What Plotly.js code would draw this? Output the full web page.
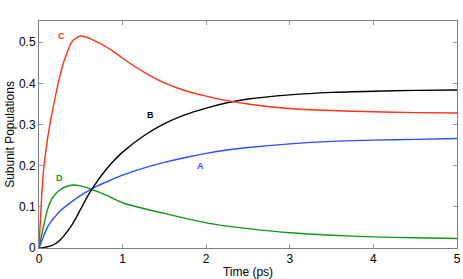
<!DOCTYPE html>
<html>
<head>
<meta charset="utf-8">
<script src="https://cdn.plot.ly/plotly-3.0.1.min.js"></script>
<style>html,body{margin:0;padding:0;background:#fff;}#chart{width:463px;height:279px;}</style>
</head>
<body>
<div id="chart"></div>
<script>
var time = [0, 0.05, 0.1, 0.15, 0.2, 0.25, 0.3, 0.4, 0.5, 0.6, 0.7, 0.8, 0.9, 1.0, 1.25, 1.5, 1.75, 2.0, 2.25, 2.5, 3.0, 3.5, 4.0, 4.5, 5.0];
var subunitA = [0, 0.026, 0.05, 0.066, 0.078, 0.089, 0.098, 0.114, 0.128, 0.140, 0.151, 0.160, 0.169, 0.177, 0.194, 0.208, 0.220, 0.230, 0.238, 0.244, 0.253, 0.259, 0.262, 0.264, 0.266];
var subunitB = [0, 0.001, 0.003, 0.006, 0.011, 0.019, 0.030, 0.058, 0.095, 0.132, 0.163, 0.190, 0.213, 0.233, 0.272, 0.302, 0.324, 0.340, 0.353, 0.362, 0.372, 0.378, 0.381, 0.383, 0.384];
var subunitC = [0, 0.18, 0.262, 0.322, 0.372, 0.418, 0.455, 0.503, 0.515, 0.510, 0.500, 0.489, 0.476, 0.461, 0.428, 0.401, 0.382, 0.369, 0.358, 0.350, 0.339, 0.334, 0.331, 0.329, 0.328];
var subunitD = [0, 0.048, 0.092, 0.118, 0.132, 0.141, 0.147, 0.153, 0.151, 0.145, 0.137, 0.129, 0.119, 0.110, 0.096, 0.084, 0.072, 0.061, 0.053, 0.047, 0.037, 0.031, 0.027, 0.025, 0.023];
var seriesNames = ['A', 'B', 'C', 'D'];
var xTicks = [0, 1, 2, 3, 4, 5];
var yTicks = [0, 0.1, 0.2, 0.3, 0.4, 0.5];
var yTickText = ['0', '0.1', '0.2', '0.3', '0.4', '0.5'];

var colors = {A: 'rgb(40,80,255)', B: 'rgb(0,0,0)', C: 'rgb(255,50,20)', D: 'rgb(20,150,20)'};
var values = {A: subunitA, B: subunitB, C: subunitC, D: subunitD};
var order = ['D', 'A', 'B', 'C'];
var traces = order.map(function(k){
  return {x: time, y: values[k], type: 'scatter', mode: 'lines', name: k,
    line: {color: colors[k], width: 1.4, shape: 'spline', smoothing: 0.7}, hoverinfo: 'skip'};
});

var labelPos = {C: [0.275, 0.515], B: [1.33, 0.322], A: [1.93, 0.2], D: [0.24, 0.169]};
var annotations = seriesNames.map(function(k){
  return {x: labelPos[k][0], y: labelPos[k][1], xref: 'x', yref: 'y', text: '<b>' + k + '</b>',
    showarrow: false, font: {family: 'Arial, Liberation Sans, sans-serif', size: 9, color: colors[k]}};
});

var axisCommon = {showgrid: false, zeroline: false, showline: true, linecolor: '#7f7f7f', linewidth: 1,
  mirror: 'ticks', ticks: 'inside', ticklen: 4, tickcolor: '#9a9a9a', tickwidth: 1,
  tickfont: {family: 'Arial, Liberation Sans, sans-serif', size: 12, color: '#000'}};

var layout = {
  width: 463, height: 279,
  margin: {l: 39, r: 6, t: 21, b: 31},
  paper_bgcolor: '#fff', plot_bgcolor: '#fff',
  showlegend: false,
  font: {family: 'Arial, Liberation Sans, sans-serif', color: '#000'},
  xaxis: Object.assign({}, axisCommon, {range: [0, 5], tickvals: xTicks, ticktext: xTicks.map(String),
    title: {text: 'Time (ps)', font: {size: 12}, standoff: 2}}),
  yaxis: Object.assign({}, axisCommon, {range: [0, 0.5515], tickvals: yTicks, ticktext: yTickText,
    title: {text: 'Subunit Populations', font: {size: 12}, standoff: 1}}),
  annotations: annotations
};
Plotly.newPlot('chart', traces, layout, {staticPlot: true, displayModeBar: false});
</script>
</body>
</html>
